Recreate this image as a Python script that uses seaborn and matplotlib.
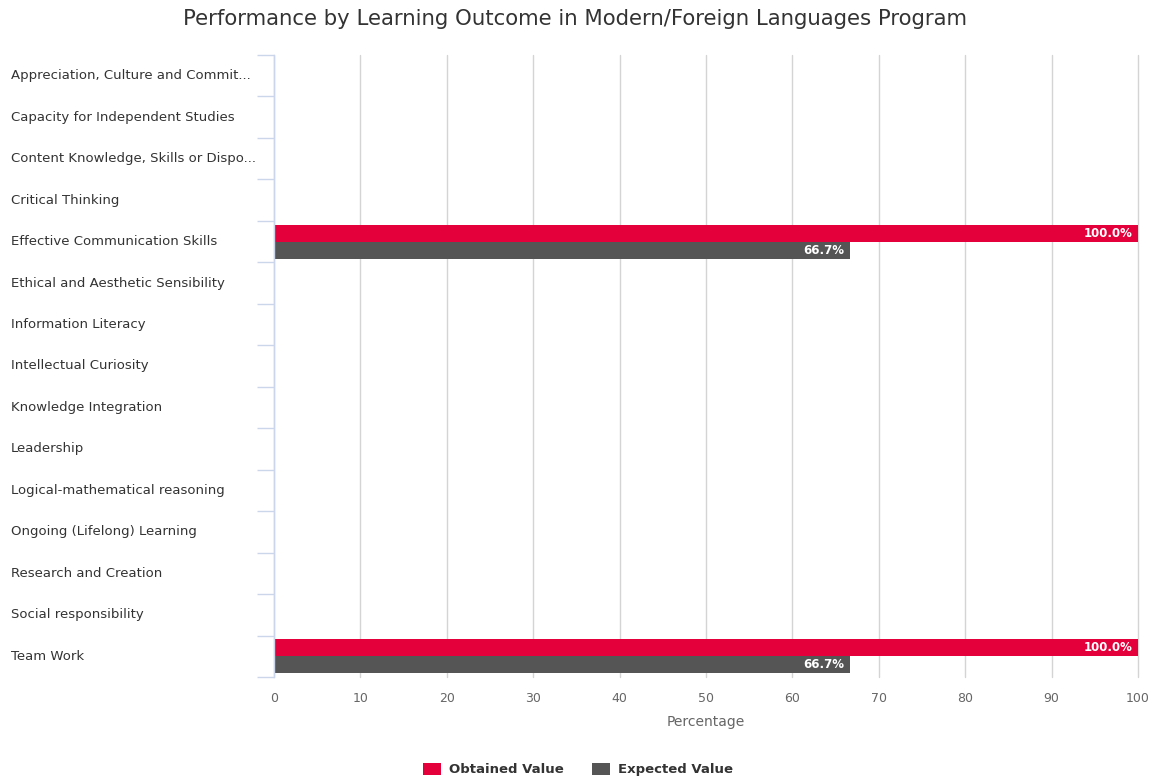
import matplotlib
matplotlib.use("Agg")
import matplotlib.pyplot as plt
import matplotlib.transforms as mtransforms
import seaborn as sns
import pandas as pd
import numpy as np

categories = [
    "Appreciation, Culture and Commit...",
    "Capacity for Independent Studies",
    "Content Knowledge, Skills or Dispo...",
    "Critical Thinking",
    "Effective Communication Skills",
    "Ethical and Aesthetic Sensibility",
    "Information Literacy",
    "Intellectual Curiosity",
    "Knowledge Integration",
    "Leadership",
    "Logical-mathematical reasoning",
    "Ongoing (Lifelong) Learning",
    "Research and Creation",
    "Social responsibility",
    "Team Work",
]
obtained = [0, 0, 0, 0, 100.0, 0, 0, 0, 0, 0, 0, 0, 0, 0, 100.0]
expected = [0, 0, 0, 0, 66.7, 0, 0, 0, 0, 0, 0, 0, 0, 0, 66.7]
series_names = ["Obtained Value", "Expected Value"]
colors = ["#e4003a", "#555555"]
x_ticks = [0, 10, 20, 30, 40, 50, 60, 70, 80, 90, 100]

df = pd.DataFrame({
    "Outcome": categories * 2,
    "Value": obtained + expected,
    "Series": [series_names[0]] * len(categories) + [series_names[1]] * len(categories),
})

sns.set_style("white")
plt.rcParams["font.family"] = ["DejaVu Sans"]

fig = plt.figure(figsize=(11.63, 7.82), dpi=100)
ax = fig.add_axes([274 / 1163, 1 - 677 / 782, (1138 - 274) / 1163, (677 - 55) / 782])

sns.barplot(
    data=df, y="Outcome", x="Value", hue="Series", order=categories,
    hue_order=series_names, palette=colors, orient="h", width=0.82,
    linewidth=0, saturation=1, ax=ax, legend=True, errorbar=None,
)

ax.set_xlim(0, 100)
ax.set_ylim(len(categories) - 0.5, -0.5)
ax.set_xticks(x_ticks)
ax.set_xticklabels([str(t) for t in x_ticks], color="#666666", fontsize=9)
ax.tick_params(axis="x", length=0, pad=11, bottom=False)
ax.set_xlabel("Percentage", color="#666666", fontsize=10, labelpad=7)
ax.set_ylabel("")

# vertical gridlines
ax.grid(axis="x", color="#d4d4d4", linewidth=1)
ax.grid(axis="y", visible=False)
ax.set_axisbelow(True)
for gl in ax.get_xgridlines():
    gl.set_clip_on(False)

for s in ["top", "right", "bottom"]:
    ax.spines[s].set_visible(False)
ax.spines["left"].set_color("#ccd6eb")
ax.spines["left"].set_linewidth(1)

# category boundary ticks on the y axis
ax.set_yticks(np.arange(len(categories) + 1) - 0.5)
ax.set_yticklabels([])
ax.tick_params(axis="y", left=True, length=12, color="#ccd6eb", width=1, direction="out")

# left-aligned category labels
trans = mtransforms.blended_transform_factory(fig.transFigure, ax.transData)
for i, c in enumerate(categories):
    fig.text(11 / 1163, i, c, transform=trans, ha="left", va="center",
             fontsize=9.5, color="#333333")

# data labels inside bar ends
for cont in ax.containers:
    for rect in cont:
        w = rect.get_width()
        if w > 0:
            ax.annotate(f"{w:.1f}%", xy=(w, rect.get_y() + rect.get_height() / 2),
                        xytext=(-4, 0), textcoords="offset points",
                        ha="right", va="center", color="white",
                        fontsize=8.5, fontweight="bold")

# legend
handles, labels = ax.get_legend_handles_labels()
ax.get_legend().remove()
fig.legend(handles, labels, loc="lower center", bbox_to_anchor=(0.497, -0.008),
           ncol=2, frameon=False, handlelength=1.4, handleheight=1.0,
           handletextpad=0.6, columnspacing=2.1,
           prop={"weight": "bold", "size": 9.5}, labelcolor="#333333")

fig.suptitle("Performance by Learning Outcome in Modern/Foreign Languages Program",
             x=575 / 1163, y=1 - 19 / 782, va="center", fontsize=15.3, color="#333333")

fig.savefig("out.png", dpi=100)
